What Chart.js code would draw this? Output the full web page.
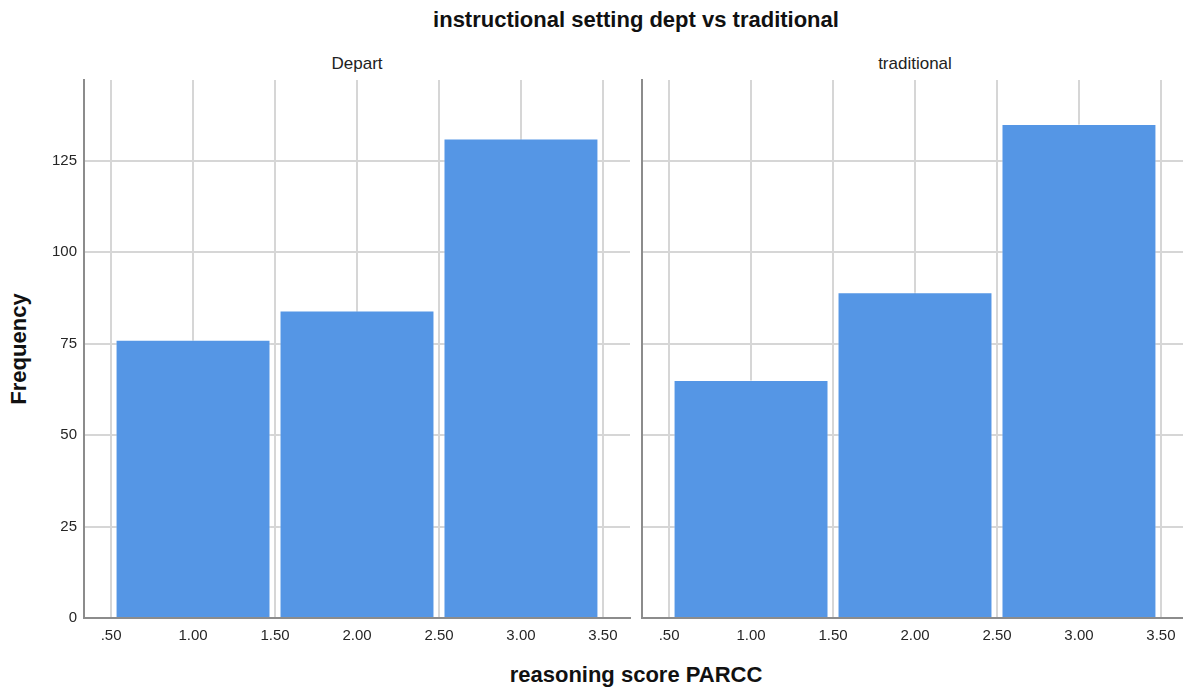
<!DOCTYPE html>
<html lang="en">
<head>
  <meta charset="UTF-8" />
  <title>instructional setting dept vs traditional</title>
  <script src="https://cdn.jsdelivr.net/npm/chart.js"></script>
  <style>
    * {
      margin: 0;
      padding: 0;
      box-sizing: border-box;
    }

    body {
      width: 1183px;
      height: 693px;
      overflow: hidden;
      background: #fff;
      position: relative;
      font-family: 'Liberation Sans', Arial, sans-serif;
      color: #111;
    }

    canvas {
      position: absolute;
      top: 0;
    }

    #leftPanel { left: 0; }
    #rightPanel { left: 632px; }

    .txt {
      position: absolute;
      white-space: nowrap;
      line-height: 1;
    }

    #title {
      left: 636px;
      top: 9px;
      transform: translateX(-50%);
      font-size: 22px;
      font-weight: bold;
    }

    .panel-name {
      top: 55px;
      transform: translateX(-50%);
      font-size: 17px;
      color: #222;
    }

    #xTitle {
      left: 636px;
      top: 664px;
      transform: translateX(-50%);
      font-size: 22px;
      font-weight: bold;
    }

    #yTitle {
      left: 19px;
      top: 349px;
      transform: translate(-50%, -50%) rotate(-90deg);
      font-size: 22px;
      font-weight: bold;
    }
  </style>
</head>
<body>
  <div id="title" class="txt">instructional setting dept vs traditional</div>
  <div id="name0" class="txt panel-name" style="left: 357px;"></div>
  <div id="name1" class="txt panel-name" style="left: 915px;"></div>
  <div id="xTitle" class="txt">reasoning score PARCC</div>
  <div id="yTitle" class="txt">Frequency</div>

  <canvas id="leftPanel" width="640" height="693"></canvas>
  <canvas id="rightPanel" width="556" height="693"></canvas>

  <script>
    const panelNames = ["Depart", "traditional"];
    const binCenters = [1, 2, 3];
    const departCounts = [76, 84, 131];
    const traditionalCounts = [65, 89, 135];
    const xTicks = [0.5, 1, 1.5, 2, 2.5, 3, 3.5];
    const xTickLabels = [".50", "1.00", "1.50", "2.00", "2.50", "3.00", "3.50"];
    const yTicks = [0, 25, 50, 75, 100, 125];

    const barColor = "#5596e5";
    const gridColor = "#d6d6d6";
    const axisColor = "#8c8c8c";
    const tickFont = { family: "'Liberation Sans', Arial, sans-serif", size: 15 };

    document.getElementById("name0").innerText = panelNames[0];
    document.getElementById("name1").innerText = panelNames[1];

    function makePanel(id, counts, showYLabels) {
      const ctx = document.getElementById(id).getContext("2d");
      return new Chart(ctx, {
        type: "bar",
        data: {
          datasets: [{
            label: "Frequency",
            data: binCenters.map((x, i) => ({ x: x, y: counts[i] })),
            backgroundColor: barColor,
            borderColor: "rgba(255,255,255,0.45)",
            borderWidth: 1,
            // ruler uses tick spacing (0.5), so a full bin is ~2 units of it
            barPercentage: 1.89,
            categoryPercentage: 1
          }]
        },
        options: {
          responsive: false,
          animation: false,
          layout: { padding: { top: 80, right: showYLabels ? 10 : 0 } },
          plugins: {
            legend: { display: false },
            tooltip: { enabled: false }
          },
          scales: {
            x: {
              type: "linear",
              min: 0.335,
              max: 3.665,
              offset: false,
              afterBuildTicks: scale => { scale.ticks = xTicks.map(v => ({ value: v })); },
              afterFit: scale => { scale.height = 75; },
              ticks: {
                color: "#262626",
                font: tickFont,
                padding: 9,
                maxRotation: 0,
                autoSkip: false,
                callback: (value, index) => xTickLabels[index]
              },
              grid: { color: gridColor, lineWidth: 2, drawTicks: false, offset: false },
              border: { display: true, color: axisColor, width: 2 }
            },
            y: {
              min: 0,
              max: 147,
              afterBuildTicks: scale => { scale.ticks = yTicks.map(v => ({ value: v })); },
              afterFit: scale => { scale.width = showYLabels ? 84 : 10; },
              ticks: {
                display: showYLabels,
                color: "#262626",
                font: tickFont,
                padding: 7
              },
              grid: { color: gridColor, lineWidth: 2, drawTicks: false },
              border: { display: true, color: axisColor, width: 2 }
            }
          }
        }
      });
    }

    makePanel("leftPanel", departCounts, true);
    makePanel("rightPanel", traditionalCounts, false);
  </script>
</body>
</html>
